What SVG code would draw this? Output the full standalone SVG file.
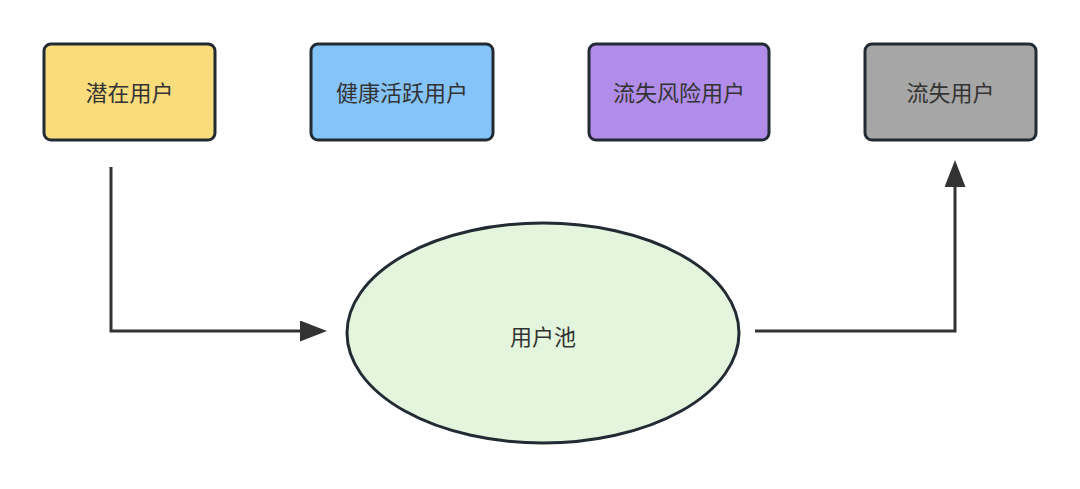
<svg xmlns="http://www.w3.org/2000/svg" width="1080" height="489" viewBox="0 0 1080 489">
<style>
.box{stroke:#222b33;stroke-width:3}
.t{font-family:"Noto Sans CJK SC","Noto Sans",sans-serif;font-size:22px;fill:#333;text-anchor:middle;dominant-baseline:central}
.c{fill:none;stroke:#333;stroke-width:3}
</style>
<defs>
<marker id="ah" markerWidth="9" markerHeight="7" refX="0" refY="3.5" orient="auto" markerUnits="strokeWidth" viewBox="0 0 9 7">
<path d="M0,0 L9,3.5 L0,7 Z" fill="#333"/>
</marker>
</defs>
<rect width="1080" height="489" fill="#fff"/>
<g id="n1"><rect class="box" x="44" y="44" width="171" height="96" rx="7" fill="#f9dc7b"/><text class="t" x="129.5" y="91">潜在用户</text></g>
<g id="n2"><rect class="box" x="311" y="44" width="182" height="96" rx="7" fill="#85c4f9"/><text class="t" x="402" y="91">健康活跃用户</text></g>
<g id="n3"><rect class="box" x="589" y="44" width="180" height="96" rx="7" fill="#b18ce9"/><text class="t" x="679" y="91">流失风险用户</text></g>
<g id="n4"><rect class="box" x="865" y="44" width="171" height="96" rx="7" fill="#a6a6a6"/><text class="t" x="950.5" y="91">流失用户</text></g>
<g id="n5"><ellipse class="box" cx="543" cy="333" rx="196" ry="110" fill="#e3f5dc"/><text class="t" x="543" y="335">用户池</text></g>
<g id="connectors">
<path class="c" d="M111,167 V331 H300" marker-end="url(#ah)"/>
<path class="c" d="M755,331 H955 V187" marker-end="url(#ah)"/>
</g>
</svg>
